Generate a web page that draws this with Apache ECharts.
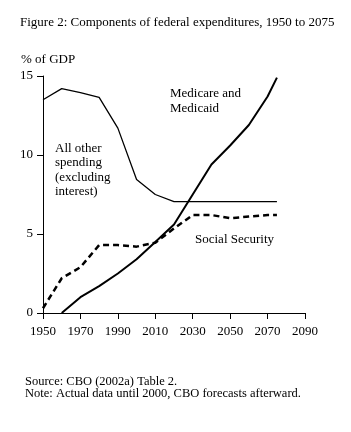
<!DOCTYPE html>
<html>
<head>
<meta charset="utf-8">
<script src="https://cdn.jsdelivr.net/npm/echarts@6/dist/echarts.min.js"></script>
<style>
  html, body { margin: 0; padding: 0; background: #fff; }
  #chart { width: 351px; height: 432px; }
</style>
</head>
<body>
<div id="chart"></div>
<script>
// values (% of GDP)
const otherYears = [1950, 1960, 1970, 1980, 1990, 2000, 2010, 2020, 2030, 2040, 2050, 2060, 2070, 2075];
const otherValues = [13.5, 14.2, 13.95, 13.65, 11.7, 8.45, 7.5, 7.05, 7.05, 7.05, 7.05, 7.05, 7.05, 7.05];

const medYears = [1960, 1970, 1980, 1990, 2000, 2010, 2020, 2030, 2040, 2050, 2060, 2070, 2075];
const medValues = [0, 1.0, 1.7, 2.5, 3.4, 4.5, 5.6, 7.5, 9.4, 10.6, 11.9, 13.7, 14.9];

const ssYears = [1950, 1960, 1970, 1980, 1990, 2000, 2010, 2020, 2030, 2040, 2050, 2060, 2070, 2075];
const ssValues = [0.3, 2.2, 2.9, 4.3, 4.3, 4.2, 4.45, 5.35, 6.2, 6.2, 6.0, 6.1, 6.2, 6.2];

const yTicks = [0, 5, 10, 15];
const xTicks = [1950, 1970, 1990, 2010, 2030, 2050, 2070, 2090];

const FONT = '"Liberation Serif", "DejaVu Serif", serif';

function pairs(xs, ys) {
  return xs.map((x, i) => [x, ys[i]]);
}

const chart = echarts.init(document.getElementById('chart'));

const textStyle = { fill: '#000', font: '13px ' + FONT };

chart.setOption({
  animation: false,
  backgroundColor: '#fff',
  textStyle: { fontFamily: FONT, color: '#000' },
  grid: { left: 43, right: 46, top: 76, bottom: 119 },
  xAxis: {
    type: 'value',
    min: xTicks[0],
    max: xTicks[xTicks.length - 1],
    interval: 20,
    splitLine: { show: false },
    axisLine: { lineStyle: { color: '#000', width: 1 } },
    axisTick: { show: true, inside: false, length: 6, lineStyle: { color: '#000' } },
    axisLabel: {
      color: '#000', fontFamily: FONT, fontSize: 13, margin: 12,
      formatter: (v) => String(v)
    }
  },
  yAxis: {
    type: 'value',
    min: yTicks[0],
    max: yTicks[yTicks.length - 1],
    interval: 5,
    splitLine: { show: false },
    axisLine: { show: true, lineStyle: { color: '#000', width: 1 } },
    axisTick: { show: true, inside: false, length: 6, lineStyle: { color: '#000' } },
    axisLabel: { color: '#000', fontFamily: FONT, fontSize: 13, margin: 10 }
  },
  series: [
    {
      name: 'All other spending (excluding interest)',
      type: 'line',
      data: pairs(otherYears, otherValues),
      symbol: 'none',
      lineStyle: { color: '#000', width: 1.3 }
    },
    {
      name: 'Medicare and Medicaid',
      type: 'line',
      data: pairs(medYears, medValues),
      symbol: 'none',
      lineStyle: { color: '#000', width: 2 }
    },
    {
      name: 'Social Security',
      type: 'line',
      data: pairs(ssYears, ssValues),
      symbol: 'none',
      lineStyle: { color: '#000', width: 2.5, type: [6, 4] }
    }
  ],
  graphic: [
    { type: 'text', left: 20, top: 16, style: { text: 'Figure 2: Components of federal expenditures, 1950 to 2075', fill: '#000', font: '13px ' + FONT } },
    { type: 'text', left: 21, top: 53, style: { text: '% of GDP', fill: '#000', font: '13px ' + FONT } },
    { type: 'text', left: 170, top: 86, style: Object.assign({ text: 'Medicare and\nMedicaid', lineHeight: 15 }, textStyle) },
    { type: 'text', left: 55, top: 141, style: Object.assign({ text: 'All other\nspending\n(excluding\ninterest)', lineHeight: 14.5 }, textStyle) },
    { type: 'text', left: 195, top: 233, style: Object.assign({ text: 'Social Security' }, textStyle) },
    { type: 'text', left: 25, top: 375, style: { text: 'Source: CBO (2002a) Table 2.\nNote: Actual data until 2000, CBO forecasts afterward.', fill: '#000', font: '12.5px ' + FONT, lineHeight: 12 } }
  ]
});
</script>
</body>
</html>
